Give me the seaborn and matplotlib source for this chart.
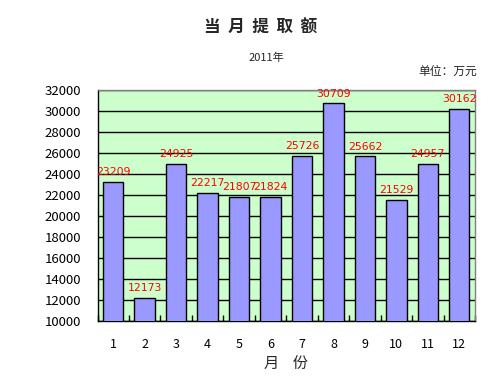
import matplotlib
matplotlib.use("Agg")
import matplotlib.pyplot as plt
import seaborn as sns
import pandas as pd
from matplotlib.ticker import FixedLocator

months = ["1", "2", "3", "4", "5", "6", "7", "8", "9", "10", "11", "12"]
values = [23209, 12173, 24925, 22217, 21807, 21824, 25726, 30709, 25662, 21529, 24957, 30162]
yticks = list(range(10000, 32001, 2000))

sns.set_theme(style="white")
plt.rcParams['font.family'] = ['Noto Sans CJK SC', 'DejaVu Sans']

df = pd.DataFrame({"month": months, "value": values})

fig = plt.figure(figsize=(5, 3.9), dpi=100)
ax = fig.add_axes([0.195, 0.177, 0.755, 0.593])
ax.set_facecolor("#CCFFCC")

sns.barplot(data=df, x="month", y="value", color="#9999FF", saturation=1,
            edgecolor="black", linewidth=1, width=0.65, ax=ax, zorder=3)

ax.set_xlim(-0.5, len(months) - 0.5)
ax.set_ylim(10000, 32000)
ax.set_yticks(yticks)
ax.set_yticklabels([str(v) for v in yticks], fontsize=9.5, color="black")
ax.yaxis.grid(True, color="black", linewidth=1, zorder=1)
ax.set_axisbelow(True)
ax.xaxis.set_minor_locator(FixedLocator([i + 0.5 for i in range(-1, len(months))]))
ax.tick_params(axis="x", which="major", labelsize=9, pad=12, length=0, colors="black")
ax.tick_params(axis="x", which="minor", direction="in", length=4, width=1, color="black", bottom=True)
ax.tick_params(axis="y", pad=12, length=0)

for i, v in enumerate(values):
    ax.text(i, v + 450, str(v), color="red", ha="center", va="bottom", fontsize=7.8,
            family="DejaVu Sans", zorder=4)

for s in ["top", "right"]:
    ax.spines[s].set_color("#808080")
for s in ["left", "bottom"]:
    ax.spines[s].set_color("black")
for s in ax.spines.values():
    s.set_linewidth(1)

ax.set_xlabel("月    份", fontsize=11, labelpad=4)
ax.set_ylabel("")

fig.text(0.522, 0.928, "当  月  提  取  额", ha="center", va="center", fontsize=12, fontweight="bold")
fig.text(0.532, 0.851, "2011年", ha="center", va="center", fontsize=8)
fig.text(0.896, 0.818, "单位：万元", ha="center", va="center", fontsize=8.5)

fig.savefig("out.png", dpi=100)
